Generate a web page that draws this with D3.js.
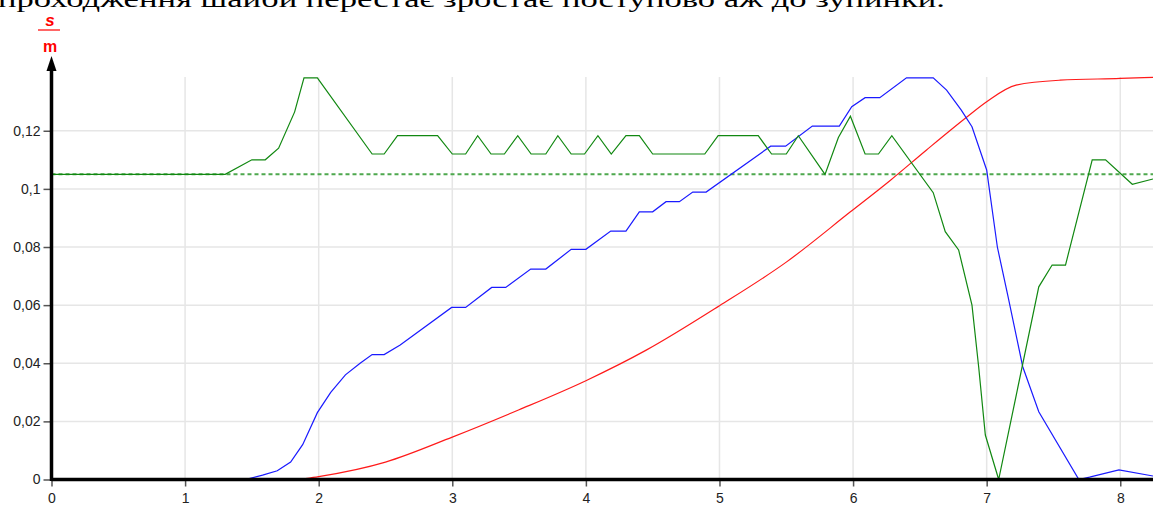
<!DOCTYPE html>
<html>
<head>
<meta charset="utf-8">
<script src="https://cdnjs.cloudflare.com/ajax/libs/d3/7.8.5/d3.min.js"></script>
<style>
  html, body { margin: 0; padding: 0; background: #fff; overflow: hidden; }
  svg { display: block; }
</style>
</head>
<body>
<svg id="chart" width="1153" height="505"></svg>
<script>
// ---- data (time in s, value in s/m) ----
const greenT = [0, 1.3, 1.5, 1.6, 1.7, 1.82, 1.89, 1.99, 2.4, 2.49, 2.59, 2.89, 3.0, 3.1, 3.19, 3.29, 3.39, 3.49, 3.59, 3.7, 3.79, 3.89, 3.99, 4.09, 4.19, 4.3, 4.4, 4.5, 4.89, 4.99, 5.29, 5.39, 5.5, 5.59, 5.79, 5.89, 5.98, 6.09, 6.19, 6.29, 6.6, 6.69, 6.79, 6.89, 6.94, 6.99, 7.09, 7.39, 7.49, 7.59, 7.79, 7.89, 8.09, 8.245];
const greenV = [0.105, 0.105, 0.110, 0.110, 0.114, 0.1265, 0.1382, 0.1382, 0.112, 0.112, 0.1183, 0.1183, 0.112, 0.112, 0.1183, 0.112, 0.112, 0.1183, 0.112, 0.112, 0.1183, 0.112, 0.112, 0.1183, 0.112, 0.1183, 0.1183, 0.112, 0.112, 0.1183, 0.1183, 0.112, 0.112, 0.1183, 0.105, 0.1177, 0.125, 0.112, 0.112, 0.1183, 0.0987, 0.0853, 0.079, 0.060, 0.0388, 0.0153, 0, 0.0663, 0.0738, 0.0738, 0.110, 0.110, 0.1016, 0.1034];

const blueT = [1.45, 1.58, 1.69, 1.79, 1.88, 1.99, 2.09, 2.2, 2.31, 2.4, 2.49, 2.61, 2.995, 3.1, 3.295, 3.4, 3.587, 3.7, 3.89, 4.0, 4.186, 4.3, 4.4, 4.5, 4.6, 4.7, 4.8, 4.9, 5.383, 5.495, 5.695, 5.897, 5.99, 6.09, 6.2, 6.4, 6.6, 6.7, 6.81, 6.89, 7.0, 7.08, 7.16, 7.27, 7.39, 7.69, 7.77, 7.99, 8.245];
const blueV = [0, 0.0015, 0.003, 0.006, 0.012, 0.023, 0.030, 0.036, 0.040, 0.043, 0.043, 0.0463, 0.0592, 0.0592, 0.0661, 0.0661, 0.0724, 0.0724, 0.0792, 0.0792, 0.0855, 0.0855, 0.0921, 0.0921, 0.0956, 0.0956, 0.0989, 0.0989, 0.1147, 0.1147, 0.1216, 0.1216, 0.1283, 0.1314, 0.1314, 0.1382, 0.1382, 0.134, 0.1271, 0.1214, 0.1065, 0.080, 0.0629, 0.0388, 0.0233, 0, 0.0008, 0.0033, 0.0012];

const redT = [1.9, 2.0, 2.5, 3.0, 3.5, 4.0, 4.455, 5.0, 5.5, 5.98, 6.28, 6.55, 6.84, 7.0, 7.22, 7.55, 8.0, 8.245];
const redV = [0.0003, 0.001, 0.006, 0.0146, 0.024, 0.034, 0.0446, 0.0598, 0.0748, 0.0921, 0.103, 0.1134, 0.1243, 0.130, 0.1357, 0.1374, 0.138, 0.1384];

const refLevel = 0.105;
const xTicks = [0, 1, 2, 3, 4, 5, 6, 7, 8];
const yTicks = [0, 0.02, 0.04, 0.06, 0.08, 0.1, 0.12];
const yTickLabels = ["0", "0,02", "0,04", "0,06", "0,08", "0,1", "0,12"];
const unitTop = "s";
const unitBottom = "m";
const captionText = "проходження шайби перестає зростає поступово аж до зупинки.";

// ---- drawing ----
const svg = d3.select("#chart");
const W = 1153, H = 505;
const x = d3.scaleLinear().domain([0, 8.245]).range([51.5, W]);
const y = d3.scaleLinear().domain([0, 0.1385]).range([479.5, 77]);

// caption text (cropped at top, as in the source screenshot)
svg.append("text")
  .attr("x", -2).attr("y", 7)
  .attr("font-family", "Liberation Serif, Times New Roman, serif")
  .attr("font-size", 24)
  .attr("fill", "#000")
  .attr("textLength", 947)
  .attr("lengthAdjust", "spacingAndGlyphs")
  .text(captionText);

// grid
const grid = svg.append("g");
grid.selectAll("line.v").data(xTicks.filter(d => d > 0)).join("line")
  .attr("x1", d => x(d)).attr("x2", d => x(d))
  .attr("y1", y.range()[1]).attr("y2", y(0))
  .attr("stroke", "#e6e6e6").attr("stroke-width", 1.5);
grid.selectAll("line.h").data(yTicks.filter(d => d > 0)).join("line")
  .attr("x1", x(0)).attr("x2", W)
  .attr("y1", d => y(d)).attr("y2", d => y(d))
  .attr("stroke", "#e6e6e6").attr("stroke-width", 1.5);

// axes ticks + labels
const xAxis = d3.axisBottom(x).tickValues(xTicks).tickSize(7).tickPadding(7).tickFormat(d3.format("d"));
const gx = svg.append("g").attr("transform", `translate(0,${y(0)})`).call(xAxis);
gx.select(".domain").remove();
gx.selectAll(".tick line").attr("stroke", "#555").attr("stroke-width", 1.5);
gx.selectAll(".tick text").attr("font-family", "Liberation Sans, Arial, sans-serif").attr("font-size", 14).attr("fill", "#222");

const yAxis = d3.axisLeft(y).tickValues(yTicks).tickSize(8).tickPadding(3).tickFormat((d, i) => yTickLabels[i]);
const gy = svg.append("g").attr("transform", `translate(${x(0)},0)`).call(yAxis);
gy.select(".domain").remove();
gy.selectAll(".tick line").attr("stroke", "#555").attr("stroke-width", 1.5);
gy.selectAll(".tick text").attr("font-family", "Liberation Sans, Arial, sans-serif").attr("font-size", 14).attr("fill", "#222");

// reference dashed line
svg.append("line")
  .attr("x1", x(0)).attr("x2", W)
  .attr("y1", y(refLevel)).attr("y2", y(refLevel))
  .attr("stroke", "#4ea84e").attr("stroke-width", 2).attr("stroke-dasharray", "4,3");

const lineLin = d3.line().x(d => x(d[0])).y(d => y(d[1]));
const lineSmooth = d3.line().x(d => x(d[0])).y(d => y(d[1])).curve(d3.curveMonotoneX);

svg.append("path").datum(redT.map((t, i) => [t, redV[i]]))
  .attr("d", lineSmooth).attr("fill", "none").attr("stroke", "#ff1a1a").attr("stroke-width", 1.2);
svg.append("path").datum(blueT.map((t, i) => [t, blueV[i]]))
  .attr("d", lineLin).attr("fill", "none").attr("stroke", "#1a1aff").attr("stroke-width", 1.2);
svg.append("path").datum(greenT.map((t, i) => [t, greenV[i]]))
  .attr("d", lineLin).attr("fill", "none").attr("stroke", "#118811").attr("stroke-width", 1.2);

// main axis lines
svg.append("line").attr("x1", x(0)).attr("x2", W).attr("y1", y(0)).attr("y2", y(0))
  .attr("stroke", "#000").attr("stroke-width", 3.5);
svg.append("line").attr("x1", x(0)).attr("x2", x(0)).attr("y1", y(0) + 1.5).attr("y2", 66)
  .attr("stroke", "#000").attr("stroke-width", 3.5);
svg.append("path")
  .attr("d", `M${x(0)},56 L${x(0) - 5},71 L${x(0) + 5},71 Z`)
  .attr("fill", "#000");

// unit label (fraction s / m)
const ux = 49;
svg.append("text").attr("x", ux + 1).attr("y", 26).attr("text-anchor", "middle")
  .attr("font-family", "Liberation Sans, Arial, sans-serif").attr("font-size", 17)
  .attr("font-weight", "bold").attr("font-style", "italic").attr("fill", "#ff0000").text(unitTop);
svg.append("line").attr("x1", 38).attr("x2", 60).attr("y1", 30).attr("y2", 30)
  .attr("stroke", "#ff0000").attr("stroke-width", 1.2);
svg.append("text").attr("x", ux + 1).attr("y", 52).attr("text-anchor", "middle")
  .attr("font-family", "Liberation Sans, Arial, sans-serif").attr("font-size", 16)
  .attr("font-weight", "bold").attr("fill", "#ff0000").text(unitBottom);
</script>
</body>
</html>
